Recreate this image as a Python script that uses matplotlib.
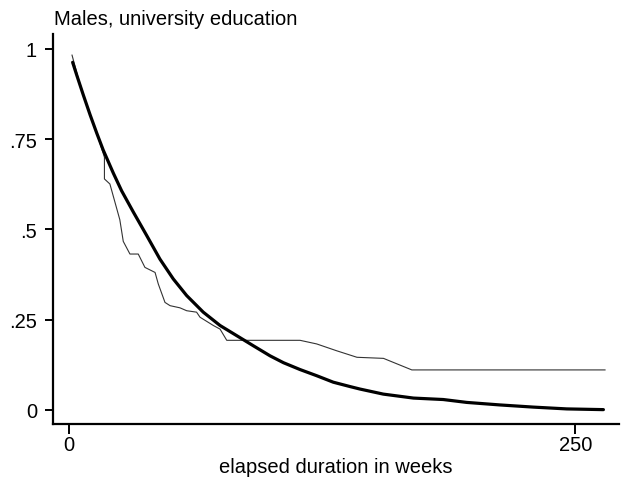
import matplotlib
matplotlib.use("Agg")
import matplotlib.pyplot as plt

# --- data ---
# observed survival (thin line)
weeks_obs = [1.5, 5, 10, 14, 17.5, 17.5, 20.2, 25.1, 26.8, 30.1, 34.2, 37.5, 42.5,
             44.1, 47.4, 49.9, 54.8, 58.1, 63, 64.7, 71.3, 74.6, 77.9, 114.1, 122.3,
             132.2, 142.2, 155.3, 169.3, 264.7]
surv_obs = [0.983, 0.91, 0.825, 0.762, 0.70, 0.64, 0.626, 0.527, 0.467, 0.432,
            0.432, 0.395, 0.381, 0.349, 0.298, 0.289, 0.283, 0.275, 0.271, 0.257,
            0.234, 0.224, 0.193, 0.193, 0.183, 0.164, 0.146, 0.143, 0.111, 0.111]

# fitted survival (thick line)
weeks_fit = [1.8, 3.8, 7.1, 10.4, 13.7, 16.9, 21.9, 26, 31.8, 38.4, 44.9, 51.5, 58.1,
             66.3, 74.6, 82.8, 91, 99.3, 105.9, 114.1, 122.3, 130.5, 138.7, 143.7,
             155.2, 170.1, 184.8, 196.4, 212.8, 229.3, 245.8, 263.9]
surv_fit = [0.963, 0.928, 0.872, 0.818, 0.767, 0.72, 0.656, 0.607, 0.548, 0.483,
            0.418, 0.363, 0.317, 0.271, 0.234, 0.206, 0.178, 0.150, 0.131, 0.112,
            0.095, 0.077, 0.065, 0.058, 0.044, 0.033, 0.029, 0.021, 0.014, 0.008,
            0.003, 0.001]

y_ticks = [0, 0.25, 0.5, 0.75, 1]
y_labels = ['0', '.25', '.5', '.75', '1']
x_ticks = [0, 250]

plt.rcParams['font.family'] = ['Liberation Sans', 'DejaVu Sans']

fig = plt.figure(figsize=(6.34, 4.85), dpi=100)
ax = fig.add_axes([53.3 / 634, 1 - 425 / 485, (619 - 53.3) / 634, (425 - 35) / 485])

ax.plot(weeks_obs, surv_obs, color='#333333', linewidth=0.8)
ax.plot(weeks_fit, surv_fit, color='black', linewidth=2.3,
        solid_joinstyle='round', solid_capstyle='round')

ax.set_xlim(-7.75, 271.6)
ax.set_ylim(-0.0388, 1.0415)

ax.set_yticks(y_ticks)
ax.set_yticklabels(y_labels)
ax.set_xticks(x_ticks)

for side in ['top', 'right']:
    ax.spines[side].set_visible(False)
for side in ['left', 'bottom']:
    ax.spines[side].set_linewidth(1.6)

ax.tick_params(axis='y', length=5.8, width=1.4, pad=6, labelsize=14.5)
ax.tick_params(axis='x', length=7.2, width=1.4, pad=1, labelsize=14.5)

ax.set_xlabel('elapsed duration in weeks', fontsize=14.5, labelpad=2)
fig.text(54 / 634, 1 - 25 / 485, 'Males, university education', fontsize=14.5,
         ha='left', va='baseline')

fig.savefig('out.png', dpi=100)
